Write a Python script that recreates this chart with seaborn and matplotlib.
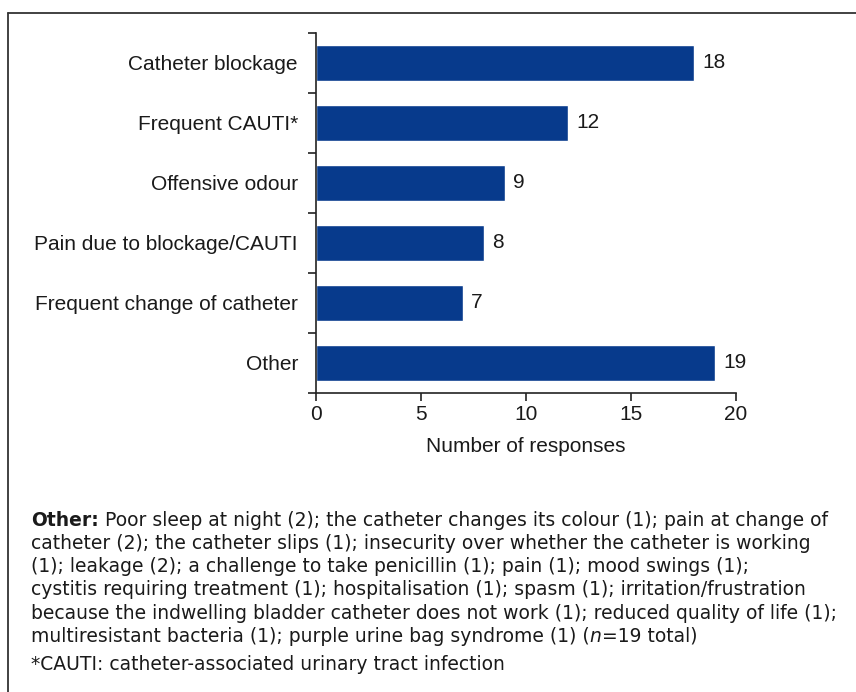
import matplotlib
matplotlib.use("Agg")
import matplotlib.pyplot as plt
from matplotlib.lines import Line2D
import seaborn as sns
import pandas as pd

categories = [
    "Catheter blockage",
    "Frequent CAUTI*",
    "Offensive odour",
    "Pain due to blockage/CAUTI",
    "Frequent change of catheter",
    "Other",
]
responses = [18, 12, 9, 8, 7, 19]
x_ticks = [0, 5, 10, 15, 20]
x_label = "Number of responses"

note_lines = [
    "catheter (2); the catheter slips (1); insecurity over whether the catheter is working",
    "(1); leakage (2); a challenge to take penicillin (1); pain (1); mood swings (1);",
    "cystitis requiring treatment (1); hospitalisation (1); spasm (1); irritation/frustration",
    "because the indwelling bladder catheter does not work (1); reduced quality of life (1);",
]
note_first = " Poor sleep at night (2); the catheter changes its colour (1); pain at change of"
note_last_a = "multiresistant bacteria (1); purple urine bag syndrome (1) ("
note_last_b = "=19 total)"
footnote = "*CAUTI: catheter-associated urinary tract infection"

sns.set_theme(style="white")
plt.rcParams["font.family"] = ["Liberation Sans", "DejaVu Sans"]

W, H = 856, 692
fig = plt.figure(figsize=(W / 100, H / 100), dpi=100)
ax = fig.add_axes([316 / W, 1 - 393 / H, (736 - 316) / W, (393 - 33) / H])

df = pd.DataFrame({"category": categories, "responses": responses})
sns.barplot(data=df, x="responses", y="category", orient="h", color="#073A8C",
            saturation=1, width=0.61, ax=ax)

lfs = 15
ax.set_xlim(0, 20)
ax.set_ylim(len(categories) - 0.5, -0.5)
ax.set_xticks(x_ticks)
ax.set_xticklabels([str(t) for t in x_ticks], fontsize=lfs, color="#1a1a1a")
ax.set_xlabel(x_label, fontsize=lfs, color="#1a1a1a", labelpad=9)
ax.set_ylabel("")
ax.set_yticks(range(len(categories)))
ax.set_yticklabels(categories, fontsize=lfs, color="#1a1a1a")
ax.set_yticks([i - 0.5 for i in range(len(categories) + 1)], minor=True)
ax.tick_params(axis="y", which="major", length=0, pad=13)
ax.tick_params(axis="y", which="minor", length=6, width=1.2, color="#222222", direction="out", left=True)
ax.tick_params(axis="x", which="major", length=6, width=1.2, color="#222222", direction="out", bottom=True, pad=3)

for s in ["top", "right"]:
    ax.spines[s].set_visible(False)
for s in ["left", "bottom"]:
    ax.spines[s].set_visible(True)
    ax.spines[s].set_color("#222222")
    ax.spines[s].set_linewidth(1.2)

for cont in ax.containers:
    ax.bar_label(cont, labels=[str(v) for v in responses], padding=6, fontsize=lfs, color="#1a1a1a")

# frame lines (top and left)
fig.add_artist(Line2D([8 / W, 1], [1 - 13 / H, 1 - 13 / H], transform=fig.transFigure, color="#333333", lw=1.3))
fig.add_artist(Line2D([8 / W, 8 / W], [0, 1 - 13 / H], transform=fig.transFigure, color="#333333", lw=1.3))

# notes
nf = ["DejaVu Sans"]
fs = 13.5
x0 = 31 / W
y = 1 - 520 / H
lh = 23.3 / H
t0 = fig.text(x0, y, "Other:", fontsize=fs, fontweight="bold", family=nf, va="center", color="#1a1a1a")
fig.canvas.draw()
ext = t0.get_window_extent()
fig.text(ext.x1 / W, y, note_first, fontsize=fs, family=nf, va="center", color="#1a1a1a")
for i, line in enumerate(note_lines):
    fig.text(x0, y - (i + 1) * lh, line, fontsize=fs, family=nf, va="center", color="#1a1a1a")
yl = y - 5 * lh
ta = fig.text(x0, yl, note_last_a, fontsize=fs, family=nf, va="center", color="#1a1a1a")
fig.canvas.draw()
ea = ta.get_window_extent()
tb = fig.text(ea.x1 / W, yl, "n", fontsize=fs, family=nf, style="italic", va="center", color="#1a1a1a")
fig.canvas.draw()
eb = tb.get_window_extent()
fig.text(eb.x1 / W, yl, note_last_b, fontsize=fs, family=nf, va="center", color="#1a1a1a")
fig.text(x0, 1 - 664 / H, footnote, fontsize=fs, family=nf, va="center", color="#1a1a1a")

fig.savefig("out.png", dpi=100)
